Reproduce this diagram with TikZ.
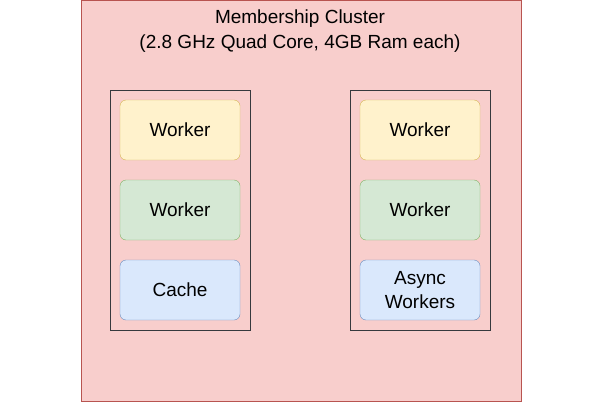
\documentclass[tikz,border=0pt]{standalone}
\usepackage{fontspec}
\setmainfont{Liberation Sans}
\usetikzlibrary{positioning}
\definecolor{clfill}{HTML}{F8CECC}
\definecolor{cldraw}{HTML}{B85450}
\definecolor{yfill}{HTML}{FFF2CC}
\definecolor{ydraw}{HTML}{D6B656}
\definecolor{gfill}{HTML}{D5E8D4}
\definecolor{gdraw}{HTML}{82B366}
\definecolor{bfill}{HTML}{DAE8FC}
\definecolor{bdraw}{HTML}{6C8EBF}
\definecolor{boxdraw}{HTML}{36393D}
\tikzset{
	unit/.style n args={2}{
		rectangle, rounded corners=6pt,
		minimum width=120pt, minimum height=60pt,
		fill=#1, draw=#2, align=center,
		font=\fontsize{19}{24}\selectfont,
		},
	column/.style={
		rectangle, draw=boxdraw,
		minimum width=140pt, minimum height=240pt,
		}
	}
\begin{document}
\begin{tikzpicture}[x=1pt,y=-1pt]
	\useasboundingbox (0,0) rectangle (601,401);
	\node (cluster) [rectangle, fill=clfill, draw=cldraw, minimum width=440pt, minimum height=400pt, anchor=north west] at (80.5,0.5) {};
	\node (title) [align=center, font=\fontsize{19}{25}\selectfont] at (300,31) {Membership Cluster\\(2.8 GHz Quad Core, 4GB Ram each)};
	\node (left)  [column] at (180,210) {};
	\node (right) [column] at (420,210) {};
	\node (lw1) [unit={yfill}{ydraw}] at (180,130) {Worker};
	\node (lw2) [unit={gfill}{gdraw}] at (180,210) {Worker};
	\node (lc)  [unit={bfill}{bdraw}] at (180,290) {Cache};
	\node (rw1) [unit={yfill}{ydraw}] at (420,130) {Worker};
	\node (rw2) [unit={gfill}{gdraw}] at (420,210) {Worker};
	\node (ra)  [unit={bfill}{bdraw}] at (420,290) {Async\\Workers};
\end{tikzpicture}
\end{document}
